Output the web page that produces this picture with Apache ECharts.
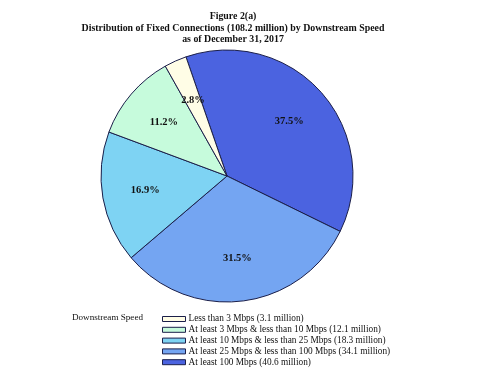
<!DOCTYPE html>
<html><head><meta charset="utf-8">
<script src="https://cdn.jsdelivr.net/npm/echarts@6/dist/echarts.min.js"></script>
<style>html,body{margin:0;padding:0;background:#fff}#c{width:500px;height:381px}</style>
</head><body><div id="c"></div>
<script>
const categories = [
  'At least 100 Mbps (40.6 million)',
  'At least 25 Mbps & less than 100 Mbps (34.1 million)',
  'At least 10 Mbps & less than 25 Mbps (18.3 million)',
  'At least 3 Mbps & less than 10 Mbps (12.1 million)',
  'Less than 3 Mbps (3.1 million)'
];
const valuesMillion = [40.6, 34.1, 18.3, 12.1, 3.1];
const percentLabels = ['37.5%', '31.5%', '16.9%', '11.2%', '2.8%'];
const colors = ['#4B63E0', '#74A5F2', '#7ED3F3', '#C6FBDC', '#FFFDE6'];
const legendOrder = [categories[4], categories[3], categories[2], categories[1], categories[0]];

const font = '"Liberation Serif", "Times New Roman", serif';
const chart = echarts.init(document.getElementById('c'), null, {renderer: 'canvas'});
const pieData = categories.map((n, i) => ({name: n, value: valuesMillion[i], itemStyle: {color: colors[i]}}));
const labelData = categories.map((n, i) => ({name: n + ' ', value: valuesMillion[i], label: {formatter: percentLabels[i]}}));

chart.setOption({
  backgroundColor: '#fff',
  animation: false,
  title: {
    text: 'Figure 2(a)\nDistribution of Fixed Connections (108.2 million) by Downstream Speed\nas of December 31, 2017',
    left: 228, top: 6, textAlign: 'center',
    textStyle: {fontFamily: font, fontSize: 9.9, fontWeight: 'bold', color: '#111', lineHeight: 11.3}
  },
  graphic: [{
    type: 'text', left: 72, top: 313,
    style: {text: 'Downstream Speed', font: '9.1px ' + font, fill: '#111'}
  }],
  legend: {
    orient: 'vertical', left: 157, top: 309,
    data: legendOrder,
    icon: 'rect', itemWidth: 23, itemHeight: 5, itemGap: 0.8,
    selectedMode: false,
    itemStyle: {borderColor: '#1b1f4a', borderWidth: 1},
    textStyle: {fontFamily: font, fontSize: 9.3, color: '#111', lineHeight: 10, padding: [0, 0, 0, -2]}
  },
  series: [{
    type: 'pie', center: [227, 176], radius: [0, 126], startAngle: 109, clockwise: true,
    silent: true, label: {show: false}, labelLine: {show: false},
    itemStyle: {borderColor: '#1b1f4a', borderWidth: 1},
    data: pieData
  }, {
    type: 'pie', center: [227, 176], radius: [34, 126], startAngle: 109, clockwise: true,
    silent: true, labelLine: {show: false},
    itemStyle: {color: 'rgba(0,0,0,0)', borderWidth: 0},
    label: {show: true, position: 'inside', fontFamily: font, fontSize: 10.5, fontWeight: 'bold', color: '#111'},
    data: labelData
  }]
});
</script></body></html>
